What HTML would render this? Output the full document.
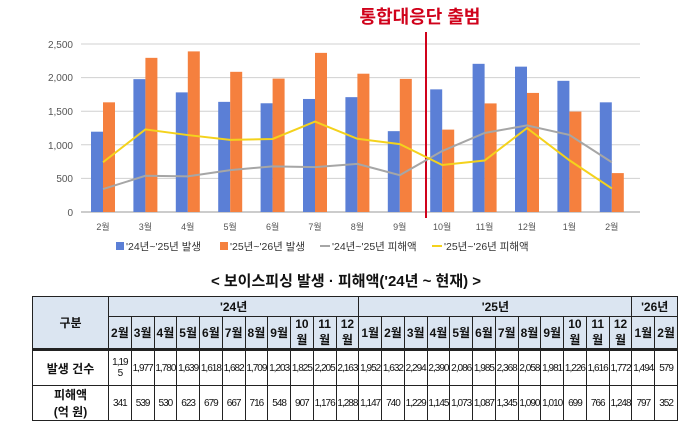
<!DOCTYPE html><html><head><meta charset="utf-8"><style>
body{margin:0;width:692px;height:435px;background:#fff;font-family:"Liberation Sans","Noto Sans CJK KR",sans-serif;overflow:hidden;position:relative}
svg{position:absolute;left:0;top:0}
.sub{position:absolute;left:0;width:692px;top:270px;text-align:center;font-weight:bold;font-size:15px;color:#111}
table{position:absolute;left:32px;top:296px;border-collapse:collapse;table-layout:fixed;width:645px}
td{border:1px solid #222;text-align:center;padding:0;font-size:11px;color:#111;overflow:hidden;white-space:nowrap}
.h{background:#dbe5f1;font-weight:bold;font-size:12px}
.n{font-size:10px;letter-spacing:-1px}
.lab{font-weight:bold;font-size:12px;background:#fff}
</style></head><body>
<svg width="692" height="265" font-family="Liberation Sans,Noto Sans CJK KR,sans-serif">
<g stroke="#d0d0d0" stroke-width="1">
<line x1="81" y1="44" x2="640" y2="44"/><line x1="81" y1="77.6" x2="640" y2="77.6"/><line x1="81" y1="111.2" x2="640" y2="111.2"/><line x1="81" y1="144.8" x2="640" y2="144.8"/><line x1="81" y1="178.4" x2="640" y2="178.4"/></g>
<line x1="81" y1="212" x2="640" y2="212" stroke="#999"/>
<g font-size="10" fill="#555" text-anchor="end">
<text x="73" y="48">2,500</text><text x="73" y="81">2,000</text><text x="73" y="115">1,500</text><text x="73" y="149">1,000</text><text x="73" y="182">500</text><text x="73" y="216">0</text></g>
<g id="bars"></g>
<line x1="426" y1="32" x2="426" y2="218" stroke="#d0021b" stroke-width="2"/>
<text x="420" y="23" font-size="18" font-weight="bold" fill="#d0021b" text-anchor="middle">통합대응단 출범</text>
<g font-size="9" fill="#555" text-anchor="middle" id="xl"></g>
<polyline id="gray" fill="none" stroke="#a6a6a6" stroke-width="2"/>
<polyline id="yel" fill="none" stroke="#f4d21c" stroke-width="2"/>
<g font-size="10.5" fill="#333">
<rect x="116" y="242" width="8" height="8" fill="#5b7fd6"/><text x="126" y="250">'24년~'25년 발생</text>
<rect x="220" y="242" width="8" height="8" fill="#f5803e"/><text x="230" y="250">'25년~'26년 발생</text>
<line x1="320" y1="246" x2="330" y2="246" stroke="#a6a6a6" stroke-width="2"/><text x="332" y="250">'24년~'25년 피해액</text>
<line x1="432" y1="246" x2="442" y2="246" stroke="#f4d21c" stroke-width="2"/><text x="444" y="250">'25년~'26년 피해액</text></g>
</svg>
<script>
var b=[1195,1977,1780,1639,1618,1682,1709,1203,1825,2205,2163,1952,1632],o=[1632,2294,2390,2086,1985,2368,2058,1981,1226,1616,1772,1494,579],g=[341,539,530,623,679,667,716,548,907,1176,1288,1147,740],y=[740,1229,1145,1073,1087,1345,1090,1010,699,766,1248,770,350],m=["2월","3월","4월","5월","6월","7월","8월","9월","10월","11월","12월","1월","2월"];
var s="",t="",pg=[],py=[],k=0.0672;
for(var i=0;i<13;i++){var c=103+i*42.4;
s+='<rect x="'+(c-12)+'" y="'+(212-b[i]*k)+'" width="12" height="'+b[i]*k+'" fill="#5b7fd6"/>';
s+='<rect x="'+c+'" y="'+(212-o[i]*k)+'" width="12" height="'+o[i]*k+'" fill="#f5803e"/>';
t+='<text x="'+c+'" y="230">'+m[i]+'</text>';pg.push(c+','+(212-g[i]*k));py.push(c+','+(212-y[i]*k));}
document.getElementById("bars").innerHTML=s;document.getElementById("xl").innerHTML=t;
document.getElementById("gray").setAttribute("points",pg.join(" "));document.getElementById("yel").setAttribute("points",py.join(" "));
</script>
<div class="sub">&lt; 보이스피싱 발생 · 피해액('24년 ~ 현재) &gt;</div>
<table>
<colgroup><col style="width:76px"><col span="25" style="width:22.76px"></colgroup>
<tr style="height:20px"><td class="h" rowspan="2">구분</td><td class="h" colspan="11">'24년</td><td class="h" colspan="12">'25년</td><td class="h" colspan="2">'26년</td></tr>
<tr style="height:32px" class="mr">
<td class="h">2월</td><td class="h">3월</td><td class="h">4월</td><td class="h">5월</td><td class="h">6월</td><td class="h">7월</td><td class="h">8월</td><td class="h">9월</td><td class="h">10<br>월</td><td class="h">11<br>월</td><td class="h">12<br>월</td><td class="h">1월</td><td class="h">2월</td><td class="h">3월</td><td class="h">4월</td><td class="h">5월</td><td class="h">6월</td><td class="h">7월</td><td class="h">8월</td><td class="h">9월</td><td class="h">10<br>월</td><td class="h">11<br>월</td><td class="h">12<br>월</td><td class="h">1월</td><td class="h">2월</td></tr>
<tr style="height:36px;border-top:3px solid #222"><td class="lab">발생 건수</td>
<td class="n">1,19<br>5</td><td class="n">1,977</td><td class="n">1,780</td><td class="n">1,639</td><td class="n">1,618</td><td class="n">1,682</td><td class="n">1,709</td><td class="n">1,203</td><td class="n">1,825</td><td class="n">2,205</td><td class="n">2,163</td><td class="n">1,952</td><td class="n">1,632</td><td class="n">2,294</td><td class="n">2,390</td><td class="n">2,086</td><td class="n">1,985</td><td class="n">2,368</td><td class="n">2,058</td><td class="n">1,981</td><td class="n">1,226</td><td class="n">1,616</td><td class="n">1,772</td><td class="n">1,494</td><td class="n">579</td></tr>
<tr style="height:33px"><td class="lab">피해액<br>(억 원)</td>
<td class="n">341</td><td class="n">539</td><td class="n">530</td><td class="n">623</td><td class="n">679</td><td class="n">667</td><td class="n">716</td><td class="n">548</td><td class="n">907</td><td class="n">1,176</td><td class="n">1,288</td><td class="n">1,147</td><td class="n">740</td><td class="n">1,229</td><td class="n">1,145</td><td class="n">1,073</td><td class="n">1,087</td><td class="n">1,345</td><td class="n">1,090</td><td class="n">1,010</td><td class="n">699</td><td class="n">766</td><td class="n">1,248</td><td class="n">797</td><td class="n">352</td></tr>
</table>
</body></html>
